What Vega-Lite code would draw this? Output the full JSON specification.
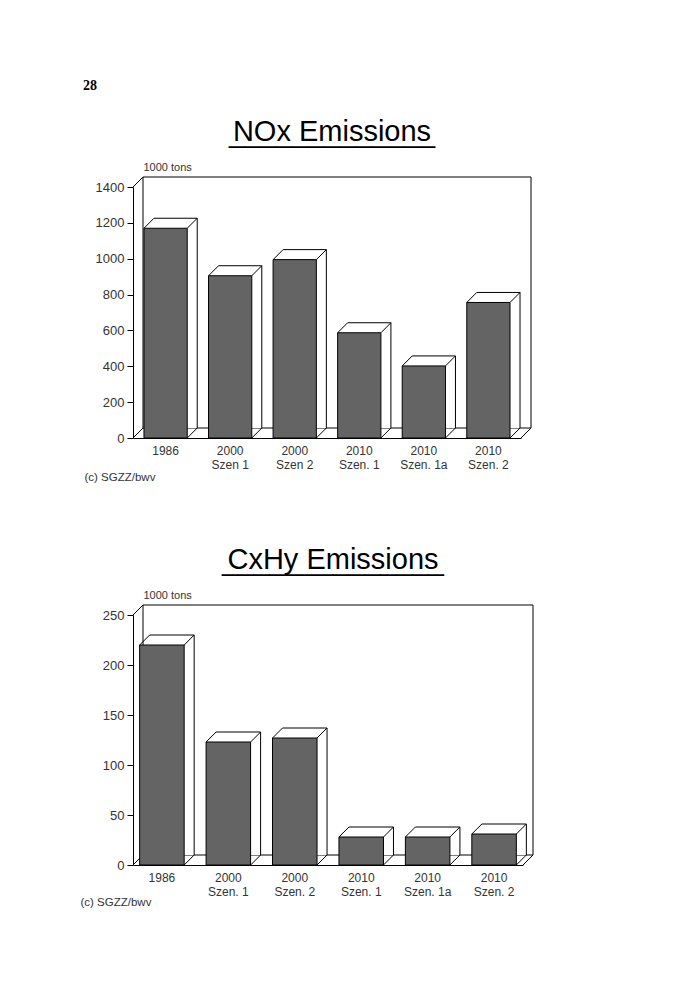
{
  "$schema": "https://vega.github.io/schema/vega-lite/v6.json",
  "padding": {"left": 80, "top": 78, "right": 0, "bottom": 0},
  "background": "white",
  "title": {"text": "28", "anchor": "start", "dx": 3, "font": "Liberation Serif", "fontWeight": "bold", "fontSize": 14, "color": "black", "offset": 25},
  "datasets": {
    "nox": [
      {"case": "1986", "tons": 1170},
      {"case": "2000 Szen 1", "tons": 905},
      {"case": "2000 Szen 2", "tons": 995},
      {"case": "2010 Szen. 1", "tons": 587},
      {"case": "2010 Szen. 1a", "tons": 402},
      {"case": "2010 Szen. 2", "tons": 756}
    ],
    "cxhy": [
      {"case": "1986", "tons": 220},
      {"case": "2000 Szen. 1", "tons": 123},
      {"case": "2000 Szen. 2", "tons": 127},
      {"case": "2010 Szen. 1", "tons": 28},
      {"case": "2010 Szen. 1a", "tons": 28},
      {"case": "2010 Szen. 2", "tons": 31}
    ]
  },
  "spacing": 62,
  "vconcat": [
    {
      "width": 388,
      "height": 251,
      "data": {"name": "nox"},
      "title": {"text": "NOx  Emissions", "subtitle": "_____________", "dx": 5},
      "layer": [
        {
          "data": {"values": [{}]},
          "mark": {"type": "rect", "fill": "transparent", "stroke": "black", "strokeWidth": 1, "xOffset": 10, "x2Offset": 10, "yOffset": -10, "y2Offset": -10},
          "encoding": {
            "x": {"value": 0}, "x2": {"value": "width"},
            "y": {
              "datum": 1400, "type": "quantitative",
              "scale": {"domain": [0, 1400], "nice": false},
              "axis": {"title": "1000 tons", "values": [0, 200, 400, 600, 800, 1000, 1200, 1400], "tickCount": 8, "format": "d", "titleX": 10, "titleY": -17}
            },
            "y2": {"datum": 0}
          }
        },
        {
          "data": {"values": [{}]},
          "mark": {"type": "rule", "color": "black", "x2Offset": 10, "y2Offset": -10},
          "encoding": {"x": {"value": 0}, "x2": {"value": 0}, "y": {"datum": 0}, "y2": {"datum": 0}}
        },
        {
          "data": {"values": [{}]},
          "mark": {"type": "rule", "color": "black", "x2Offset": 10, "y2Offset": -10},
          "encoding": {"x": {"value": "width"}, "x2": {"value": "width"}, "y": {"datum": 0}, "y2": {"datum": 0}}
        },
        {
          "data": {"values": [{}]},
          "mark": {"type": "rule", "color": "black", "x2Offset": 10, "y2Offset": -10},
          "encoding": {"x": {"value": 0}, "x2": {"value": 0}, "y": {"datum": 1400}, "y2": {"datum": 1400}}
        },
        {
          "mark": {"type": "bar", "fill": "white", "xOffset": 10, "yOffset": -10, "y2Offset": -9},
          "encoding": {
            "x": {
              "field": "case", "type": "nominal", "sort": null,
              "scale": {"paddingInner": 0.33, "paddingOuter": 0.17},
              "axis": {"title": "(c) SGZZ/bwv", "titleX": -49, "titleY": 42, "labelExpr": "[slice(datum.label, 0, 4), slice(datum.label, 5)]"}
            },
            "y": {"field": "tons", "type": "quantitative"}
          }
        },
        {
          "mark": {"type": "rule", "color": "black", "xOffset": 10, "x2Offset": 10, "yOffset": -10},
          "encoding": {
            "x": {"field": "case", "type": "nominal", "sort": null, "bandPosition": 0},
            "x2": {"field": "case", "bandPosition": 1},
            "y": {"field": "tons", "type": "quantitative"}
          }
        },
        {
          "mark": {"type": "rule", "color": "black", "xOffset": 10, "yOffset": -10, "y2Offset": -10},
          "encoding": {
            "x": {"field": "case", "type": "nominal", "sort": null, "bandPosition": 1},
            "y": {"field": "tons", "type": "quantitative"},
            "y2": {"datum": 0}
          }
        },
        {
          "mark": {"type": "bar", "fill": "#646464", "stroke": "black", "strokeWidth": 1},
          "encoding": {
            "x": {"field": "case", "type": "nominal", "sort": null},
            "y": {"field": "tons", "type": "quantitative"}
          }
        },
        {
          "mark": {"type": "rule", "color": "black", "x2Offset": 10, "y2Offset": -10},
          "encoding": {
            "x": {"field": "case", "type": "nominal", "sort": null, "bandPosition": 0},
            "x2": {"field": "case", "bandPosition": 0},
            "y": {"field": "tons", "type": "quantitative"},
            "y2": {"field": "tons"}
          }
        },
        {
          "mark": {"type": "rule", "color": "black", "x2Offset": 10, "y2Offset": -10},
          "encoding": {
            "x": {"field": "case", "type": "nominal", "sort": null, "bandPosition": 1},
            "x2": {"field": "case", "bandPosition": 1},
            "y": {"field": "tons", "type": "quantitative"},
            "y2": {"field": "tons"}
          }
        },
        {
          "mark": {"type": "rule", "color": "black", "x2Offset": 10, "y2Offset": -10},
          "encoding": {
            "x": {"field": "case", "type": "nominal", "sort": null, "bandPosition": 1},
            "x2": {"field": "case", "bandPosition": 1},
            "y": {"datum": 0},
            "y2": {"datum": 0}
          }
        }
      ]
    },
    {
      "width": 390,
      "height": 250,
      "data": {"name": "cxhy"},
      "title": {"text": "CxHy  Emissions", "subtitle": "______________", "dx": 5},
      "layer": [
        {
          "data": {"values": [{}]},
          "mark": {"type": "rect", "fill": "transparent", "stroke": "black", "strokeWidth": 1, "xOffset": 10, "x2Offset": 10, "yOffset": -10, "y2Offset": -10},
          "encoding": {
            "x": {"value": 0}, "x2": {"value": "width"},
            "y": {
              "datum": 250, "type": "quantitative",
              "scale": {"domain": [0, 250], "nice": false},
              "axis": {"title": "1000 tons", "values": [0, 50, 100, 150, 200, 250], "format": "d", "titleX": 10, "titleY": -17}
            },
            "y2": {"datum": 0}
          }
        },
        {
          "data": {"values": [{}]},
          "mark": {"type": "rule", "color": "black", "x2Offset": 10, "y2Offset": -10},
          "encoding": {"x": {"value": 0}, "x2": {"value": 0}, "y": {"datum": 0}, "y2": {"datum": 0}}
        },
        {
          "data": {"values": [{}]},
          "mark": {"type": "rule", "color": "black", "x2Offset": 10, "y2Offset": -10},
          "encoding": {"x": {"value": "width"}, "x2": {"value": "width"}, "y": {"datum": 0}, "y2": {"datum": 0}}
        },
        {
          "data": {"values": [{}]},
          "mark": {"type": "rule", "color": "black", "x2Offset": 10, "y2Offset": -10},
          "encoding": {"x": {"value": 0}, "x2": {"value": 0}, "y": {"datum": 250}, "y2": {"datum": 250}}
        },
        {
          "mark": {"type": "bar", "fill": "white", "xOffset": 10, "yOffset": -10, "y2Offset": -9},
          "encoding": {
            "x": {
              "field": "case", "type": "nominal", "sort": null,
              "scale": {"paddingInner": 0.33, "paddingOuter": 0.1},
              "axis": {"title": "(c) SGZZ/bwv", "titleX": -53, "titleY": 40, "labelExpr": "[slice(datum.label, 0, 4), slice(datum.label, 5)]"}
            },
            "y": {"field": "tons", "type": "quantitative"}
          }
        },
        {
          "mark": {"type": "rule", "color": "black", "xOffset": 10, "x2Offset": 10, "yOffset": -10},
          "encoding": {
            "x": {"field": "case", "type": "nominal", "sort": null, "bandPosition": 0},
            "x2": {"field": "case", "bandPosition": 1},
            "y": {"field": "tons", "type": "quantitative"}
          }
        },
        {
          "mark": {"type": "rule", "color": "black", "xOffset": 10, "yOffset": -10, "y2Offset": -10},
          "encoding": {
            "x": {"field": "case", "type": "nominal", "sort": null, "bandPosition": 1},
            "y": {"field": "tons", "type": "quantitative"},
            "y2": {"datum": 0}
          }
        },
        {
          "mark": {"type": "bar", "fill": "#646464", "stroke": "black", "strokeWidth": 1},
          "encoding": {
            "x": {"field": "case", "type": "nominal", "sort": null},
            "y": {"field": "tons", "type": "quantitative"}
          }
        },
        {
          "mark": {"type": "rule", "color": "black", "x2Offset": 10, "y2Offset": -10},
          "encoding": {
            "x": {"field": "case", "type": "nominal", "sort": null, "bandPosition": 0},
            "x2": {"field": "case", "bandPosition": 0},
            "y": {"field": "tons", "type": "quantitative"},
            "y2": {"field": "tons"}
          }
        },
        {
          "mark": {"type": "rule", "color": "black", "x2Offset": 10, "y2Offset": -10},
          "encoding": {
            "x": {"field": "case", "type": "nominal", "sort": null, "bandPosition": 1},
            "x2": {"field": "case", "bandPosition": 1},
            "y": {"field": "tons", "type": "quantitative"},
            "y2": {"field": "tons"}
          }
        },
        {
          "mark": {"type": "rule", "color": "black", "x2Offset": 10, "y2Offset": -10},
          "encoding": {
            "x": {"field": "case", "type": "nominal", "sort": null, "bandPosition": 1},
            "x2": {"field": "case", "bandPosition": 1},
            "y": {"datum": 0},
            "y2": {"datum": 0}
          }
        }
      ]
    }
  ],
  "config": {
    "font": "Liberation Sans",
    "view": {"stroke": null},
    "title": {"fontSize": 29, "fontWeight": "normal", "color": "black", "anchor": "middle", "offset": 14, "subtitleFontSize": 28.5, "subtitleColor": "black", "subtitleFont": "Liberation Sans", "subtitlePadding": -28},
    "axis": {
      "grid": false,
      "domainColor": "black",
      "tickColor": "black",
      "labelColor": "#333",
      "labelFontSize": 13,
      "titleFontSize": 11,
      "titleFontWeight": "normal",
      "titleColor": "#333",
      "titleAngle": 0
    },
    "axisY": {"tickSize": 6, "titleAlign": "left", "titleBaseline": "alphabetic", "labelPadding": 3},
    "axisX": {"ticks": false, "labelAngle": 0, "labelPadding": 7, "labelLineHeight": 14, "labelFontSize": 12, "titleFontSize": 11.5, "titleAnchor": "start", "titleAlign": "left", "titleBaseline": "alphabetic"}
  }
}
